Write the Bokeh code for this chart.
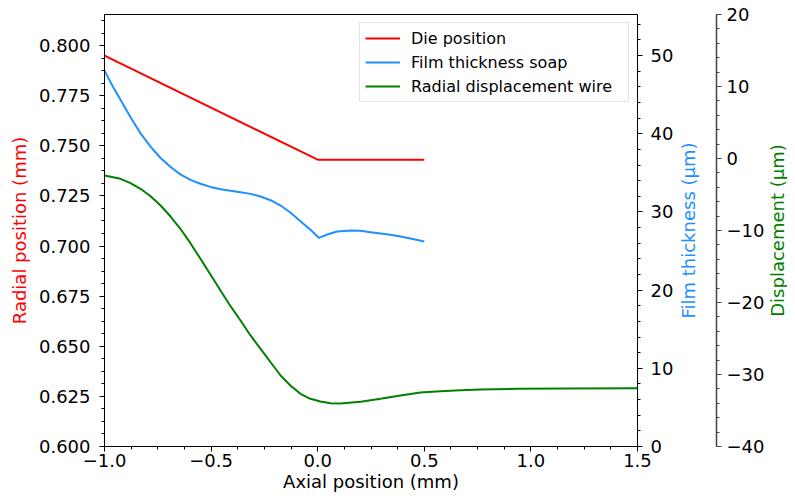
import math
from bokeh.plotting import figure
from bokeh.layouts import row
from bokeh.models import (Range1d, LinearAxis, SingleIntervalTicker, PrintfTickFormatter,
                          CustomJSTickFormatter, Legend, LegendItem, Label)
from bokeh.embed import file_html
from bokeh.resources import INLINE

# ---- data ----
die_x = [-1.0, 0.0, 0.5]
die_y = [0.795, 0.7431, 0.7431]

film_x = [-1.0, -0.972, -0.925, -0.878, -0.831, -0.784, -0.737, -0.690, -0.644, -0.597,
          -0.550, -0.503, -0.456, -0.409, -0.362, -0.315, -0.268, -0.221, -0.174, -0.128,
          -0.081, -0.034, 0.005, 0.045, 0.091, 0.154, 0.200, 0.248, 0.295, 0.341, 0.388,
          0.435, 0.5]
film_y = [48.1, 46.6, 44.35, 42.1, 40.05, 38.35, 36.9, 35.75, 34.8, 34.1,
          33.6, 33.2, 32.9, 32.7, 32.52, 32.31, 31.97, 31.5, 30.82, 29.92,
          28.81, 27.71, 26.69, 27.11, 27.49, 27.62, 27.58, 27.41, 27.24, 27.07, 26.85,
          26.6, 26.21]

disp_x = [-1.0, -0.925, -0.878, -0.831, -0.784, -0.737, -0.690, -0.644, -0.597, -0.550,
          -0.503, -0.456, -0.409, -0.362, -0.315, -0.268, -0.221, -0.174, -0.128, -0.081,
          -0.034, 0.013, 0.060, 0.107, 0.201, 0.295, 0.388, 0.482, 0.576, 0.670, 0.764,
          0.936, 1.17, 1.5]
disp_y = [-2.36, -2.82, -3.43, -4.21, -5.24, -6.53, -8.06, -9.76, -11.76, -13.93,
          -16.11, -18.33, -20.51, -22.5, -24.58, -26.43, -28.3, -30.14, -31.53, -32.68,
          -33.38, -33.75, -33.99, -34.03, -33.79, -33.38, -32.92, -32.5, -32.32, -32.18, -32.08,
          -31.99, -31.94, -31.9]

X_RANGE = (-1.0, 1.5)
RADIAL_RANGE = (0.6, 0.8155)
FILM_RANGE = (0, 55.25)
DISP_RANGE = (-40, 20)

RED = "#ff0000"
BLUE = "#1e90ff"
GREEN = "#008000"
FONT = "DejaVu Sans"
H = 495
TOP = 14
BOTTOM = 49


def style(ax, color_label, color_line="black", standoff=8):
    ax.axis_label_text_font = FONT
    ax.axis_label_text_font_size = "18px"
    ax.axis_label_text_font_style = "normal"
    ax.axis_label_text_color = color_label
    ax.major_label_text_font = FONT
    ax.major_label_text_font_size = "18px"
    ax.major_label_text_color = "black"
    ax.axis_line_color = color_line
    ax.major_tick_line_color = color_line
    ax.minor_tick_line_color = color_line
    ax.major_tick_out = 5
    ax.major_tick_in = 0
    ax.minor_tick_out = 3
    ax.minor_tick_in = 0
    ax.major_label_standoff = standoff


def clean(fig):
    fig.xgrid.visible = False
    fig.ygrid.visible = False
    fig.background_fill_color = "white"
    fig.border_fill_color = "white"


# ---------------- main figure ----------------
p = figure(width=678, height=H, output_backend="svg", toolbar_location=None,
           x_range=Range1d(*X_RANGE), y_range=Range1d(*RADIAL_RANGE),
           min_border_left=104, min_border_top=TOP, min_border_bottom=BOTTOM, min_border_right=41)
p.extra_y_ranges = {"film": Range1d(*FILM_RANGE), "disp": Range1d(*DISP_RANGE)}
clean(p)
p.outline_line_color = "black"
p.outline_line_width = 1

xa = p.xaxis[0]
xa.ticker = SingleIntervalTicker(interval=0.5, num_minor_ticks=4)
xa.formatter = CustomJSTickFormatter(code="return tick.toFixed(1).replace('-', '\u2212');")
xa.axis_label = "Axial position (mm)"
style(xa, "black", standoff=2)
xa.axis_label_standoff = 1

ya = p.yaxis[0]
ya.ticker = SingleIntervalTicker(interval=0.025, num_minor_ticks=4)
ya.formatter = PrintfTickFormatter(format="%.3f")
ya.axis_label = "Radial position (mm)"
style(ya, RED, standoff=9)
ya.axis_label_standoff = 6

film_ax = LinearAxis(y_range_name="film",
                     ticker=SingleIntervalTicker(interval=10, num_minor_ticks=5))
film_ax.formatter = CustomJSTickFormatter(code="return tick.toFixed(0).replace('-', '\u2212');")
style(film_ax, BLUE, standoff=8)
p.add_layout(film_ax, "right")

r_die = p.line(die_x, die_y, line_color=RED, line_width=2)
r_film = p.line(film_x, film_y, line_color=BLUE, line_width=2, y_range_name="film")
r_disp = p.line(disp_x, disp_y, line_color=GREEN, line_width=2, y_range_name="disp")

legend = Legend(items=[LegendItem(label="Die position", renderers=[r_die]),
                       LegendItem(label="Film thickness soap", renderers=[r_film]),
                       LegendItem(label="Radial displacement wire", renderers=[r_disp])],
                location="top_right")
legend.margin = 8
legend.padding = 5
legend.spacing = 4
legend.label_text_font = FONT
legend.label_text_font_size = "16px"
legend.label_text_color = "black"
legend.glyph_width = 35
legend.glyph_height = 20
legend.label_height = 20
legend.label_width = 212
legend.label_standoff = 11
legend.border_line_color = "#cccccc"
legend.border_line_width = 1
legend.background_fill_alpha = 0.8
p.add_layout(legend)

# ---------------- middle strip: film label + displacement axis ----------------
pm = figure(width=89, height=H, output_backend="svg", toolbar_location=None,
            x_range=Range1d(0, 1), y_range=Range1d(*DISP_RANGE),
            x_axis_location=None, y_axis_location="right",
            min_border_left=0, min_border_top=TOP, min_border_bottom=BOTTOM, min_border_right=48)
clean(pm)
pm.outline_line_color = None
da = pm.yaxis[0]
da.ticker = SingleIntervalTicker(interval=10, num_minor_ticks=5)
da.formatter = CustomJSTickFormatter(code="return tick.toFixed(0).replace('-', '\u2212');")
style(da, GREEN, "#444444", standoff=5)
da.axis_line_width = 1.5
pm.add_layout(Label(x=0.256, y=sum(DISP_RANGE) / 2, text="Film thickness (\u00b5m)",
                    angle=math.pi / 2, text_align="center", text_baseline="middle",
                    text_color=BLUE, text_font=FONT, text_font_size="18px"))

# ---------------- right strip: displacement label ----------------
pr = figure(width=20, height=H, output_backend="svg", toolbar_location=None,
            x_range=Range1d(0, 1), y_range=Range1d(*DISP_RANGE),
            x_axis_location=None, y_axis_location=None,
            min_border_left=0, min_border_top=TOP, min_border_bottom=BOTTOM, min_border_right=0)
clean(pr)
pr.outline_line_color = None
pr.add_layout(Label(x=0.5, y=sum(DISP_RANGE) / 2, text="Displacement (\u00b5m)",
                    angle=math.pi / 2, text_align="center", text_baseline="middle",
                    text_color=GREEN, text_font=FONT, text_font_size="18px"))

layout = row(p, pm, pr, spacing=0)
open("out.html", "w").write(file_html(layout, INLINE))
